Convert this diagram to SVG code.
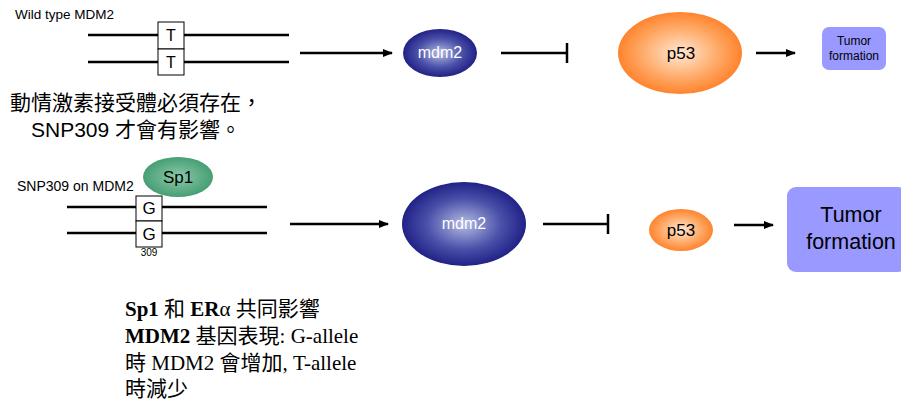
<svg xmlns="http://www.w3.org/2000/svg" width="901" height="402" viewBox="0 0 901 402">
<defs>
<radialGradient id="gBlue" cx="50%" cy="50%" r="55%">
<stop offset="0" stop-color="#b4bce4"/>
<stop offset="0.55" stop-color="#4a50a8"/>
<stop offset="1" stop-color="#16167e"/>
</radialGradient>
<radialGradient id="gOrange" cx="50%" cy="50%" r="55%">
<stop offset="0" stop-color="#ffe8d4"/>
<stop offset="0.55" stop-color="#ffab6a"/>
<stop offset="1" stop-color="#ff7a1e"/>
</radialGradient>
<radialGradient id="gGreen" cx="50%" cy="50%" r="55%">
<stop offset="0" stop-color="#8ccaaa"/>
<stop offset="1" stop-color="#3f9a70"/>
</radialGradient>
<marker id="arr" markerWidth="10" markerHeight="8" refX="9" refY="4" orient="auto" markerUnits="userSpaceOnUse">
<path d="M0,0 L10,4 L0,8 Z" fill="#000"/>
</marker>
</defs>
<style>
.sans{font-family:"Liberation Sans",Arial,"Noto Sans CJK TC",sans-serif;}
.ser{font-family:"Liberation Serif","Times New Roman","Noto Sans CJK TC",serif;}
.dna{stroke:#000;stroke-width:2.5;fill:none;}
.box{fill:#fff;stroke:#000;stroke-width:1;}
.con{stroke:#000;stroke-width:2.5;fill:none;}
.tum{fill:#9999ff;}
</style>

<g id="wt-label"><text x="15" y="19" class="sans" font-size="13.5">Wild type MDM2</text></g>
<g id="wt-dna">
<line x1="88" y1="35" x2="289" y2="35" class="dna"/>
<line x1="88" y1="62" x2="289" y2="62" class="dna"/>
<rect x="158" y="22" width="26" height="27" class="box"/>
<rect x="158" y="49" width="26" height="26" class="box"/>
<text x="171" y="41" class="sans" font-size="16" text-anchor="middle">T</text>
<text x="171" y="68" class="sans" font-size="16" text-anchor="middle">T</text>
</g>
<g id="wt-mdm2">
<ellipse cx="440" cy="53" rx="37" ry="24" fill="url(#gBlue)"/>
<text x="440" y="58" class="sans" font-size="16" fill="#fff" text-anchor="middle">mdm2</text>
</g>
<g id="wt-p53">
<ellipse cx="680" cy="53" rx="62" ry="41" fill="url(#gOrange)"/>
<text x="681" y="59" class="sans" font-size="17" text-anchor="middle">p53</text>
</g>
<g id="wt-tumor">
<rect x="822" y="27" width="64" height="43" rx="7" class="tum"/>
<text x="854" y="45" class="sans" font-size="12" text-anchor="middle">Tumor</text>
<text x="854" y="60" class="sans" font-size="12" text-anchor="middle">formation</text>
</g>

<g id="note1">
<text x="10" y="110" class="sans" font-size="21">動情激素接受體必須存在，</text>
<text x="31" y="137" class="sans" font-size="21">SNP309 才會有影響。</text>
</g>

<g id="snp-label"><text x="17" y="191" class="sans" font-size="14">SNP309 on MDM2</text></g>
<g id="sp1">
<ellipse cx="178" cy="177" rx="35" ry="20" fill="url(#gGreen)"/>
<text x="178" y="183" class="sans" font-size="17" text-anchor="middle">Sp1</text>
</g>
<g id="snp-dna">
<line x1="67" y1="207" x2="267" y2="207" class="dna"/>
<line x1="67" y1="233" x2="267" y2="233" class="dna"/>
<rect x="136" y="196" width="26" height="25" class="box"/>
<rect x="136" y="221" width="26" height="26" class="box"/>
<text x="149" y="214" class="sans" font-size="17" text-anchor="middle">G</text>
<text x="149" y="240" class="sans" font-size="17" text-anchor="middle">G</text>
<text x="149" y="256" class="sans" font-size="10" text-anchor="middle">309</text>
</g>
<g id="snp-mdm2">
<ellipse cx="464" cy="224" rx="62" ry="42" fill="url(#gBlue)"/>
<text x="464" y="229" class="sans" font-size="16" fill="#fff" text-anchor="middle">mdm2</text>
</g>
<g id="snp-p53">
<ellipse cx="681" cy="230" rx="32" ry="21" fill="url(#gOrange)"/>
<text x="681" y="236" class="sans" font-size="17" text-anchor="middle">p53</text>
</g>
<g id="snp-tumor">
<rect x="787" y="187" width="120" height="85" rx="9" class="tum"/>
<text x="851" y="222" class="sans" font-size="21.5" text-anchor="middle">Tumor</text>
<text x="851" y="249" class="sans" font-size="21.5" text-anchor="middle">formation</text>
</g>

<g id="connectors">
<line x1="300" y1="53" x2="392" y2="53" class="con" stroke-width="2" marker-end="url(#arr)"/>
<line x1="501" y1="53" x2="567" y2="53" class="con"/>
<line x1="567" y1="43" x2="567" y2="63" class="con"/>
<line x1="756" y1="53" x2="795" y2="53" class="con" stroke-width="2" marker-end="url(#arr)"/>
<line x1="290" y1="224" x2="388" y2="224" class="con" stroke-width="2" marker-end="url(#arr)"/>
<line x1="543" y1="224" x2="608" y2="224" class="con"/>
<line x1="608" y1="214" x2="608" y2="234" class="con"/>
<line x1="734" y1="225" x2="773" y2="225" class="con" stroke-width="2" marker-end="url(#arr)"/>
</g>

<g id="note2" class="ser" font-size="21">
<text x="125" y="316"><tspan font-weight="bold">Sp1</tspan> 和 <tspan font-weight="bold">ER</tspan>α 共同影響</text>
<text x="125" y="343"><tspan font-weight="bold">MDM2</tspan> 基因表現: G-allele</text>
<text x="125" y="370">時 MDM2 會增加, T-allele</text>
<text x="125" y="396">時減少</text>
</g>
</svg>
